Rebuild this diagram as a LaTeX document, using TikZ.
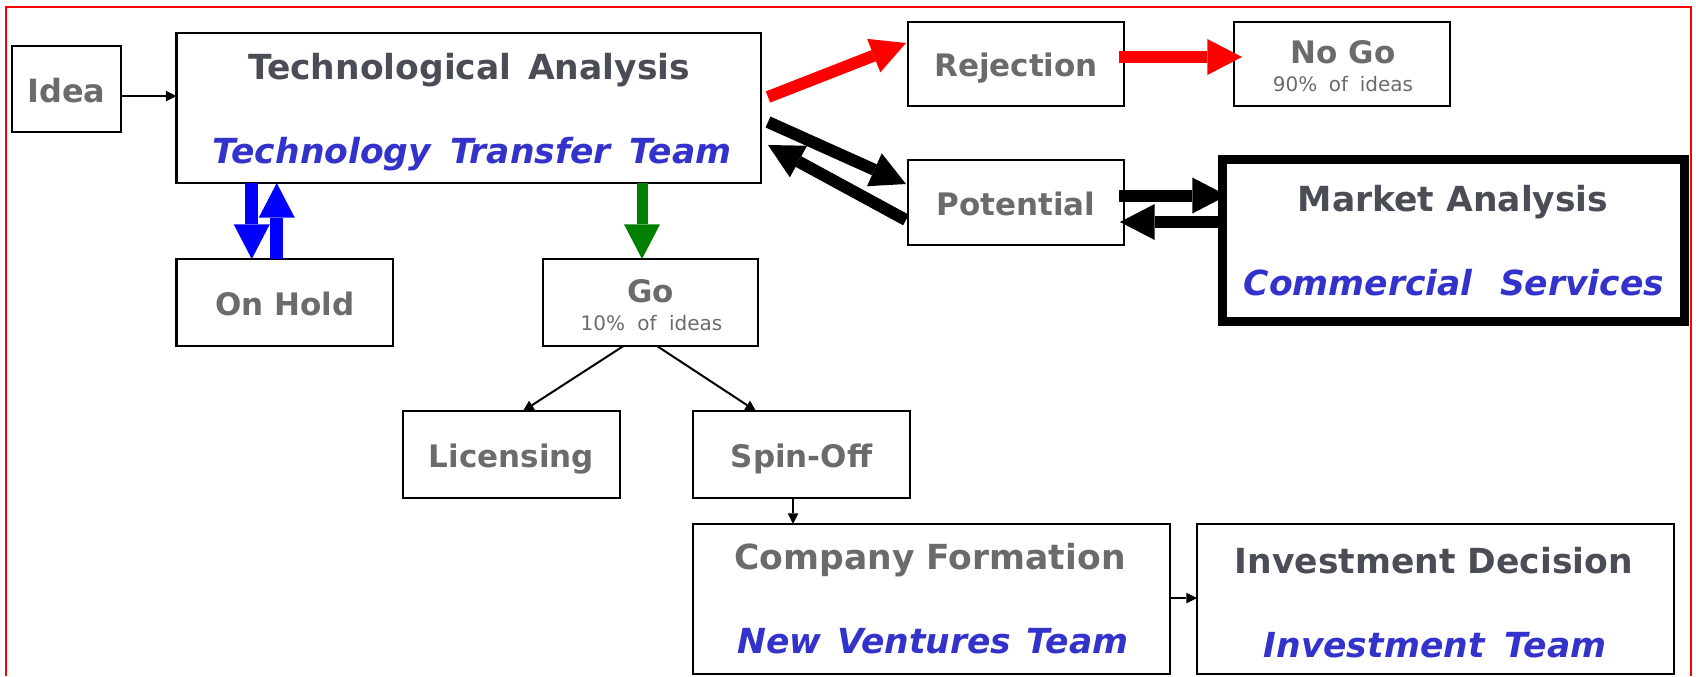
\documentclass[tikz,border=0pt]{standalone}
\usepackage{fontspec}
\setmainfont{DejaVu Sans}
\usetikzlibrary{arrows.meta,calc}
\definecolor{headgray}{HTML}{4A4D55}
\definecolor{labgray}{HTML}{6B6B6B}
\definecolor{teamblue}{HTML}{3333CC}
\definecolor{arrowblue}{HTML}{0000FF}
\definecolor{arrowgreen}{HTML}{008000}
\definecolor{arrowred}{HTML}{FF0000}
\newcommand\wgap[1]{\hspace{#1em}}

\begin{document}
\begin{tikzpicture}[x=0.75pt,y=-0.75pt,
  box/.style={draw=black, line width=1.9pt, inner sep=0pt, outer sep=0pt, rectangle},
  sz/.style 2 args={minimum width=#1*0.75pt, minimum height=#2*0.75pt},
  heading/.style={anchor=base, inner sep=0pt, text=headgray, font=\fontsize{25.9}{30}\selectfont\bfseries},
  team/.style={anchor=base, inner sep=0pt, text=teamblue, font=\fontsize{25.9}{30}\selectfont\bfseries\itshape},
  graylabel/.style={anchor=base, inner sep=0pt, text=labgray, font=\fontsize{23.25}{28}\selectfont\bfseries},
  note/.style={anchor=base, inner sep=0pt, text=labgray, font=\fontsize{15}{18}\selectfont},
  flowline/.style={draw=black, line width=1.5pt, -{Triangle[length=8pt,width=8pt,line width=0pt]}},
  block/.style={line width=9pt, -{Triangle[length=26pt,width=27pt,line width=0pt]}},
]
\useasboundingbox (0,0) rectangle (1696,676);

% outer frame
\draw[arrowred, line width=1.1pt] (6,676) -- (6,7) -- (1691,7) -- (1691,676);

% boxes
\node[box, sz={109}{86}] (idea) at (66.5,89) {};
\node[box, sz={584.5}{150}] (ta) at (468.75,108) {};
\node[box, sz={216}{84}] (rej) at (1016,64) {};
\node[box, sz={216}{84}] (nogo) at (1342,64) {};
\node[box, sz={216}{85}] (pot) at (1016,202.5) {};
\node[box, line width=6.75pt, sz={462}{162.5}] (mkt) at (1453.5,240.25) {};
\node[box, sz={216.5}{87}] (hold) at (284.75,302.5) {};
\node[box, sz={215}{87}] (go) at (650.5,302.5) {};
\node[box, sz={217}{87}] (lic) at (511.5,454.5) {};
\node[box, sz={217}{87}] (spin) at (801.5,454.5) {};
\node[box, sz={477}{150}] (comp) at (931.5,599) {};
\node[box, sz={477}{150}] (inv) at (1435.5,599) {};

% texts
\node[graylabel, font=\fontsize{24}{28}\selectfont\bfseries] (ideaT) at (66.5,102) {Idea};
\node[heading] (taT) at (469,79) {Technological\wgap{0.48}Analysis};
\node[team] (taS) at (472,163) {Technology\wgap{0.55}Transfer\wgap{0.55}Team};
\node[graylabel] (rejT) at (1016,76) {Rejection};
\node[graylabel] (nogoT) at (1343,63) {No Go};
\node[note] (nogoS) at (1343,91) {90\%\wgap{0.58}of\wgap{0.58}ideas};
\node[graylabel] (potT) at (1016,215) {Potential};
\node[heading] (mktT) at (1453,211) {Market Analysis};
\node[team] (mktS) at (1454,295) {Commercial\wgap{0.79}Services};
\node[graylabel] (holdT) at (285,315) {On Hold};
\node[graylabel] (goT) at (650.5,302) {Go};
\node[note] (goS) at (651.5,330) {10\%\wgap{0.62}of\wgap{0.62}ideas};
\node[graylabel] (licT) at (511.5,467) {Licensing};
\node[graylabel] (spinT) at (801.5,467) {Spin-Off};
\node[heading, text=labgray] (compT) at (930,569) {Company Formation};
\node[team] (compS) at (933,653) {New\wgap{0.44}Ventures\wgap{0.44}Team};
\node[heading] (invT) at (1434,573) {Investment Decision};
\node[team] (invS) at (1435,657) {Investment\wgap{0.58}Team};

% thin connectors
\draw[flowline] ($(idea.east)+(0,7)$) -- ($(ta.west)+(0,-12)$);
\draw[flowline] ($(go.south)+(-27,0)$) -- ($(lic.north)+(11.5,0)$);
\draw[flowline] ($(go.south)+(6.5,0)$) -- ($(spin.north)+(-45.5,0)$);
\coordinate (sc) at ($(spin.south)+(-8.5,0)$);
\draw[flowline] (sc) -- (sc |- comp.north);
\coordinate (ci) at ($(comp.east)+(0,-1)$);
\draw[flowline] (ci) -- (ci -| inv.west);

% blue and green block arrows below the analysis box
\coordinate (hd) at ($(hold.north)+(-33,0)$);
\coordinate (hu) at ($(hold.north)+(-8,0)$);
\draw[block, arrowblue, line width=9.75pt] (hd |- ta.south) -- (hd);
\draw[block, arrowblue, line width=9.75pt] (hu) -- (hu |- ta.south);
\coordinate (gd) at ($(go.north)+(-8.5,0)$);
\draw[block, arrowgreen, line width=8.25pt] (gd |- ta.south) -- (gd);

% rejection path
\draw[block, arrowred] ($(ta.east)+(7,-11)$) -- ($(rej.west)+(-2,-21)$);
\draw[block, arrowred] ($(rej.east)+(-5,-7)$) -- ($(nogo.west)+(8,-7)$);

% potential loop
\draw[block, black] ($(ta.east)+(7,14)$) -- ($(pot.west)+(-2,-18.5)$);
\draw[block, black] ($(pot.west)+(-2,17.5)$) -- ($(ta.east)+(7,37)$);
\draw[block, black] ($(pot.east)+(-5,-7)$) -- ($(mkt.west)+(4.5,-44.75)$);
\draw[block, black] ($(mkt.west)+(-4.5,-18.25)$) -- ($(pot.east)+(-4,19.5)$);
\end{tikzpicture}
\end{document}
